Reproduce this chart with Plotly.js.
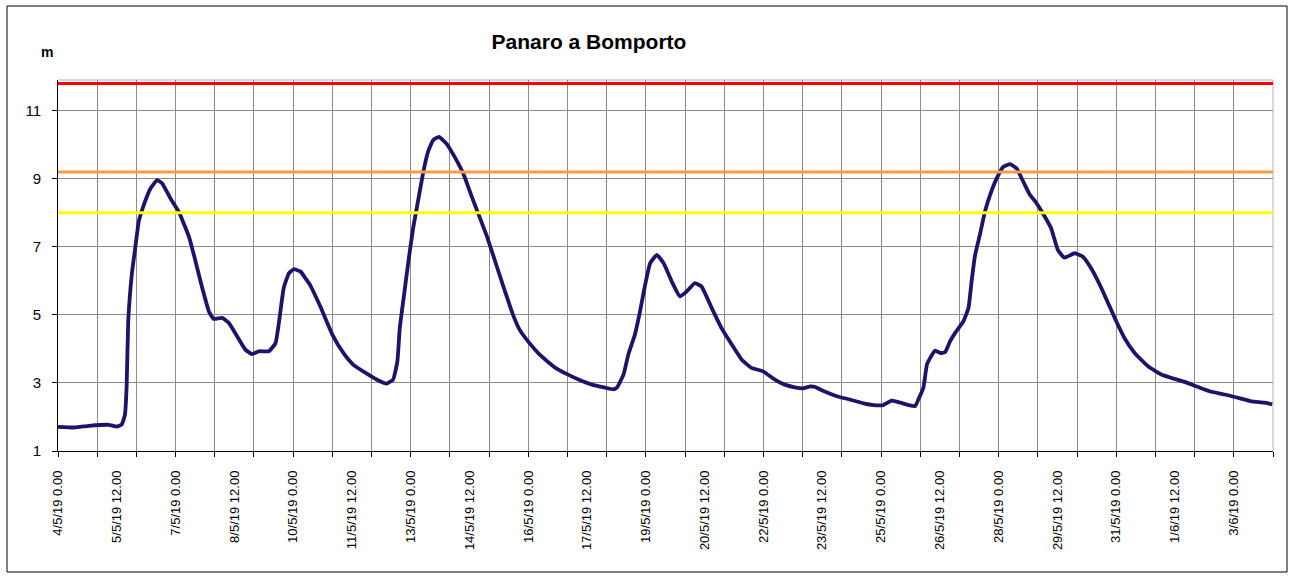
<!DOCTYPE html>
<html>
<head>
<meta charset="utf-8">
<script src="https://cdn.plot.ly/plotly-3.0.1.min.js"></script>
<style>
  html, body { margin: 0; padding: 0; background: #ffffff; }
  #chart { width: 1292px; height: 577px; }
</style>
</head>
<body>
<div id="chart"></div>
<script>
// ---- data ----
const times = [
  '2019-05-04 00:00','2019-05-04 10:00','2019-05-04 19:00','2019-05-05 07:00','2019-05-05 12:00',
  '2019-05-05 15:00','2019-05-05 17:00','2019-05-05 18:00','2019-05-05 19:00','2019-05-05 20:24',
  '2019-05-05 21:22','2019-05-05 23:17','2019-05-06 01:26','2019-05-06 04:34','2019-05-06 08:38',
  '2019-05-06 12:43','2019-05-06 15:50','2019-05-06 20:53','2019-05-07 01:55','2019-05-07 08:10',
  '2019-05-07 12:14','2019-05-07 16:19','2019-05-07 20:24','2019-05-07 23:17','2019-05-08 04:34',
  '2019-05-08 08:38','2019-05-08 13:41','2019-05-08 18:43','2019-05-08 22:48','2019-05-09 02:53',
  '2019-05-09 09:07','2019-05-09 13:12','2019-05-09 15:07','2019-05-09 18:14','2019-05-09 21:22',
  '2019-05-10 00:29','2019-05-10 04:34','2019-05-10 07:26','2019-05-10 10:19','2019-05-10 16:34',
  '2019-05-11 00:00','2019-05-11 06:43','2019-05-11 12:43','2019-05-11 20:53','2019-05-12 03:07',
  '2019-05-12 09:07','2019-05-12 13:12','2019-05-12 15:50','2019-05-12 17:17','2019-05-12 19:55',
  '2019-05-12 22:34','2019-05-13 01:26','2019-05-13 04:34','2019-05-13 07:41','2019-05-13 10:34',
  '2019-05-13 13:41','2019-05-13 17:17','2019-05-13 21:50','2019-05-14 02:53','2019-05-14 08:10',
  '2019-05-14 12:14','2019-05-14 17:17','2019-05-14 22:19','2019-05-15 02:24','2019-05-15 08:24',
  '2019-05-15 14:38','2019-05-15 18:43','2019-05-16 00:43','2019-05-16 06:58','2019-05-16 12:58',
  '2019-05-16 16:34','2019-05-17 00:00','2019-05-17 06:43','2019-05-17 14:53','2019-05-17 23:02',
  '2019-05-18 04:05','2019-05-18 06:14','2019-05-18 10:19','2019-05-18 13:12','2019-05-18 17:17',
  '2019-05-18 20:24','2019-05-18 23:31','2019-05-19 02:38','2019-05-19 06:43','2019-05-19 10:48',
  '2019-05-19 15:50','2019-05-19 20:53','2019-05-20 00:58','2019-05-20 06:00','2019-05-20 10:05',
  '2019-05-20 16:19','2019-05-20 22:19','2019-05-21 04:34','2019-05-21 10:34','2019-05-21 16:34',
  '2019-05-21 23:46','2019-05-22 06:58','2019-05-22 12:58','2019-05-22 19:12','2019-05-23 00:00',
  '2019-05-23 04:48','2019-05-23 07:41','2019-05-23 12:43','2019-05-23 20:53','2019-05-24 05:02',
  '2019-05-24 13:12','2019-05-24 19:26','2019-05-25 01:26','2019-05-25 06:29','2019-05-25 11:46',
  '2019-05-25 16:48','2019-05-25 20:53','2019-05-25 22:48','2019-05-26 01:55','2019-05-26 04:05',
  '2019-05-26 06:00','2019-05-26 09:07','2019-05-26 12:14','2019-05-26 15:07','2019-05-26 18:14',
  '2019-05-26 21:22','2019-05-27 02:24','2019-05-27 05:31','2019-05-27 07:26','2019-05-27 09:36',
  '2019-05-27 12:29','2019-05-27 15:36','2019-05-27 18:43','2019-05-27 22:48','2019-05-28 02:53',
  '2019-05-28 06:58','2019-05-28 11:02','2019-05-28 15:07','2019-05-28 19:12','2019-05-28 21:50',
  '2019-05-29 03:07','2019-05-29 08:10','2019-05-29 12:14','2019-05-29 16:19','2019-05-29 22:34',
  '2019-05-30 03:36','2019-05-30 08:38','2019-05-30 14:53','2019-05-30 19:55','2019-05-31 00:00',
  '2019-05-31 05:02','2019-05-31 11:17','2019-05-31 19:26','2019-06-01 03:36','2019-06-01 09:36',
  '2019-06-01 17:46','2019-06-02 02:10','2019-06-02 10:19','2019-06-02 18:29','2019-06-03 02:38',
  '2019-06-03 10:48','2019-06-03 18:58','2019-06-03 23:31'
];
const levels = [
  1.71,1.69,1.74,1.77,1.72,
  1.78,2.07,2.86,4.81,5.79,
  6.27,6.96,7.74,8.23,8.71,
  8.96,8.86,8.42,8.03,7.30,
  6.57,5.79,5.10,4.88,4.91,
  4.76,4.37,3.98,3.85,3.93,
  3.93,4.17,4.71,5.79,6.22,
  6.34,6.27,6.08,5.88,5.25,
  4.42,3.88,3.54,3.28,3.10,
  2.98,3.10,3.64,4.61,5.59,
  6.57,7.54,8.37,9.20,9.79,
  10.13,10.23,10.03,9.64,9.15,
  8.62,7.98,7.35,6.76,5.88,
  5.00,4.56,4.17,3.83,3.58,
  3.44,3.25,3.10,2.95,2.86,
  2.81,2.86,3.25,3.83,4.42,
  5.10,5.88,6.52,6.76,6.52,
  5.98,5.54,5.69,5.93,5.83,
  5.20,4.61,4.13,3.69,3.44,
  3.34,3.10,2.95,2.87,2.84,
  2.90,2.88,2.76,2.61,2.51,
  2.40,2.35,2.35,2.48,2.42,
  2.35,2.32,2.51,2.86,3.54,
  3.73,3.95,3.88,3.90,4.22,
  4.47,4.81,5.20,5.98,6.76,
  7.35,8.03,8.52,9.01,9.35,
  9.43,9.30,8.91,8.52,8.37,
  7.98,7.54,6.91,6.68,6.81,
  6.71,6.37,5.79,5.25,4.81,
  4.32,3.88,3.49,3.25,3.15,
  3.03,2.88,2.74,2.66,2.56,
  2.46,2.42,2.37
];

// threshold levels (m)
const thresholdNames  = ['Soglia 3', 'Soglia 2', 'Soglia 1'];
const thresholdValues = [11.8, 9.2, 8.0];
const thresholdColors = ['#FF0000', '#FF9A47', '#FFFF00'];

// x-axis label positions and texts (every 36 h)
const labelDates = [
  '2019-05-04 00:00','2019-05-05 12:00','2019-05-07 00:00','2019-05-08 12:00','2019-05-10 00:00',
  '2019-05-11 12:00','2019-05-13 00:00','2019-05-14 12:00','2019-05-16 00:00','2019-05-17 12:00',
  '2019-05-19 00:00','2019-05-20 12:00','2019-05-22 00:00','2019-05-23 12:00','2019-05-25 00:00',
  '2019-05-26 12:00','2019-05-28 00:00','2019-05-29 12:00','2019-05-31 00:00','2019-06-01 12:00',
  '2019-06-03 00:00'
];
const labelTexts = [
  '4/5/19 0.00','5/5/19 12.00','7/5/19 0.00','8/5/19 12.00','10/5/19 0.00',
  '11/5/19 12.00','13/5/19 0.00','14/5/19 12.00','16/5/19 0.00','17/5/19 12.00',
  '19/5/19 0.00','20/5/19 12.00','22/5/19 0.00','23/5/19 12.00','25/5/19 0.00',
  '26/5/19 12.00','28/5/19 0.00','29/5/19 12.00','31/5/19 0.00','1/6/19 12.00',
  '3/6/19 0.00'
];
const xStart = '2019-05-04 00:00';
const xEnd   = '2019-06-04 00:00';
const yRange = [1, 11.9];

// ---- geometry ----
const W = 1292, H = 577;
const M = {l: 58, r: 19, t: 80, b: 126};
const PW = W - M.l - M.r, PH = H - M.t - M.b;
const pxX = px => (px - M.l) / PW;
const pxY = py => (H - M.b - py) / PH;
const FONT = 'Liberation Sans, Arial, sans-serif';

const traces = [];
thresholdValues.forEach((v, i) => {
  traces.push({
    x: [xStart, xEnd], y: [v, v], xaxis: 'x2', yaxis: 'y',
    mode: 'lines', name: thresholdNames[i], hoverinfo: 'skip',
    line: {color: thresholdColors[i], width: 3}
  });
});
traces.push({
  x: times, y: levels, xaxis: 'x', yaxis: 'y',
  mode: 'lines', name: 'Panaro a Bomporto',
  line: {color: '#1C1468', width: 3.8, shape: 'spline', smoothing: 0.4}
});

const layout = {
  width: W, height: H,
  margin: M,
  paper_bgcolor: '#ffffff', plot_bgcolor: '#ffffff',
  showlegend: false,
  font: {family: FONT, color: '#000000'},
  title: {
    text: '<b>Panaro a Bomporto</b>',
    font: {family: FONT, size: 21, color: '#000000'},
    xref: 'container', yref: 'container',
    x: 589 / W, xanchor: 'center',
    y: 1 - 42 / H, yanchor: 'middle'
  },
  xaxis: {
    type: 'date', range: [xStart, xEnd],
    tick0: xStart, dtick: 86400000,
    showticklabels: false,
    ticks: 'outside', ticklen: 5, tickcolor: '#000000', tickwidth: 1,
    showgrid: true, gridcolor: '#8C8C8C', gridwidth: 1,
    showline: true, linecolor: '#000000', linewidth: 1,
    zeroline: false, fixedrange: true
  },
  xaxis2: {
    type: 'date', range: [xStart, xEnd],
    overlaying: 'x', anchor: 'y', side: 'bottom',
    tickmode: 'array', tickvals: labelDates, ticktext: labelTexts,
    tickangle: -90, ticks: '', ticklabelstandoff: 16,
    tickfont: {family: FONT, size: 13, color: '#000000'},
    showgrid: false, showline: false, zeroline: false, fixedrange: true
  },
  yaxis: {
    range: yRange, tick0: 1, dtick: 2,
    ticks: 'outside', ticklen: 5, tickcolor: '#000000', tickwidth: 1,
    ticklabelstandoff: 8,
    tickfont: {family: FONT, size: 15, color: '#000000'},
    showgrid: true, gridcolor: '#8C8C8C', gridwidth: 1,
    showline: true, linecolor: '#000000', linewidth: 1,
    zeroline: false, fixedrange: true
  },
  shapes: [
    // top and right plot border (grey)
    {type: 'line', xref: 'paper', yref: 'paper', x0: 0, x1: 1, y0: 1, y1: 1,
     line: {color: '#B4B4B4', width: 1}, layer: 'below'},
    {type: 'line', xref: 'paper', yref: 'paper', x0: 1, x1: 1, y0: 0, y1: 1,
     line: {color: '#B4B4B4', width: 1}, layer: 'below'},
    // outer chart frame
    {type: 'rect', xref: 'paper', yref: 'paper',
     x0: pxX(7), x1: pxX(1287), y0: pxY(572), y1: pxY(6),
     line: {color: '#000000', width: 1}, fillcolor: 'rgba(0,0,0,0)', layer: 'below'}
  ],
  annotations: [
    {text: '<b>m</b>', xref: 'paper', yref: 'paper',
     x: pxX(47), y: pxY(52), xanchor: 'center', yanchor: 'middle',
     showarrow: false, font: {family: FONT, size: 14, color: '#000000'}}
  ]
};

Plotly.newPlot('chart', traces, layout, {displayModeBar: false, staticPlot: true});
</script>
</body>
</html>
